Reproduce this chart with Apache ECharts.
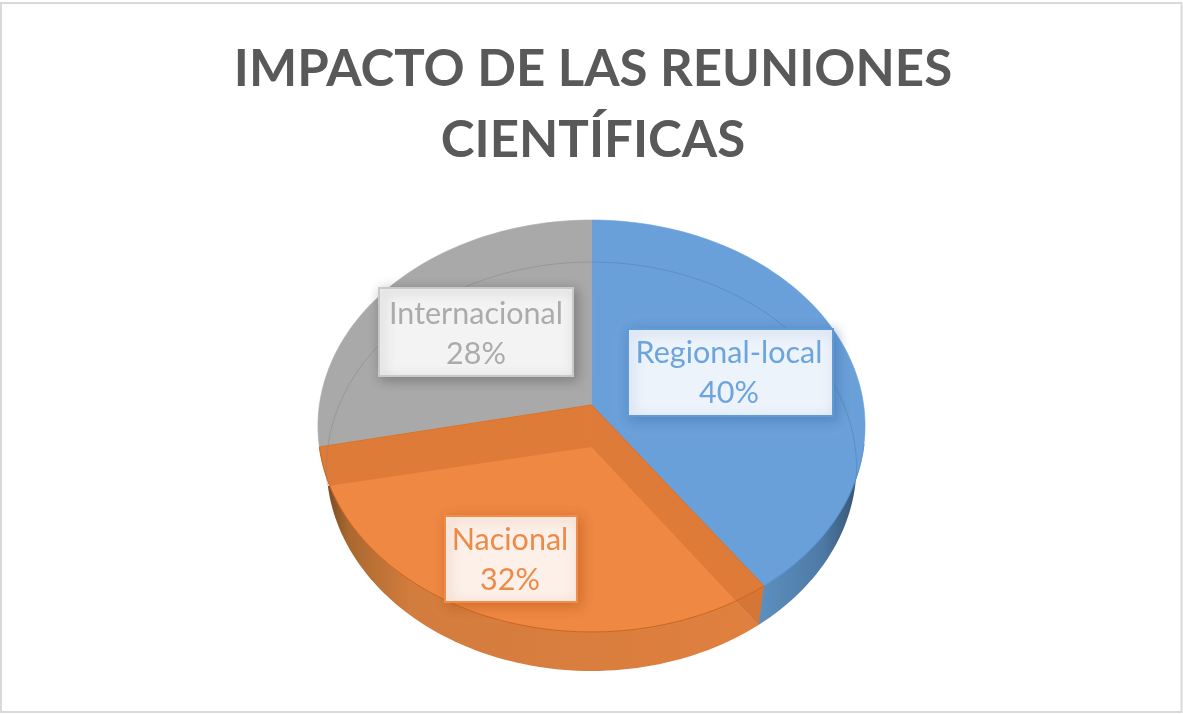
<!DOCTYPE html>
<html><head><meta charset="utf-8">
<style>html,body{margin:0;padding:0;background:#fff}#c{width:1183px;height:714px}</style>
<script src="https://cdn.jsdelivr.net/npm/echarts@6/dist/echarts.min.js"></script>
</head><body><div id="c"></div>
<script>
const titleLines = ['IMPACTO DE LAS REUNIONES', 'CIENTÍFICAS'];
const categories = ['Regional-local', 'Nacional', 'Internacional'];
const percentages = [40, 32, 28];

const FONT = 'Lato, "Open Sans", sans-serif';
// Perspective disc: unit circle -> screen through a projective map
const P = -0.0874, K = 204.4, CX = 591.5;
const TOP = {ay: 408, apexY: 405, r: 272.5};
const BASE = {ay: 447, apexY: 447, r: 264};
const BACK = {ay: 450, apexY: 450, r: 264};
function pt(disc, deg) {
  const a = deg * Math.PI / 180, u = Math.sin(a), v = -Math.cos(a), d = 1 + P * v;
  return [CX + disc.r * u / d, disc.ay + K * v / d];
}
function arc(disc, a0, a1) {
  const out = [], n = Math.max(2, Math.ceil(Math.abs(a1 - a0) / 1.5));
  for (let i = 0; i <= n; i++) out.push(pt(disc, a0 + (a1 - a0) * i / n));
  return out;
}
function apex(disc) { return [CX, disc.apexY]; }
function wedge(disc, a0, a1) { return [apex(disc)].concat(arc(disc, a0, a1)); }
// angle on the top rim nearest to a screen point
function nearestRimAngle(p, from, to) {
  let best = from, bd = Infinity;
  for (let a = from; a >= to; a -= 0.5) {
    const q = pt(TOP, a), d = (q[0] - p[0]) ** 2 + (q[1] - p[1]) ** 2;
    if (d < bd) { bd = d; best = a; }
  }
  return best;
}

const G = (x0, x1, stops) => new echarts.graphic.LinearGradient(x0, 0, x1, 0, stops, true);
const looks = [
  {top: '#6AA0D9', rim: '#5A93CE', text: '#6CA4DE', box: '#EDF3FB', border: '#5F9BD6', shadow: 'rgba(50,100,160,.45)',
   wall: G(760, 862, [{offset: 0, color: '#5C8FBF'}, {offset: .6, color: '#4E7BA6'}, {offset: 1, color: '#35506C'}]),
   rect: {x: 628, y: 329, width: 205, height: 87}, lx: 729, ly: [353, 393]},
  {top: '#EE8843', rim: '#C9661F', text: '#EE8A47', box: '#FCF0E9', border: '#F08C47', shadow: 'rgba(170,80,20,.45)',
   wall: G(322, 760, [{offset: 0, color: '#6E4422'}, {offset: .06, color: '#A9682F'}, {offset: .2, color: '#D27C3D'}, {offset: 1, color: '#E0803F'}]),
   rect: {x: 445, y: 516, width: 132, height: 86}, lx: 510, ly: [540, 580]},
  {top: '#A9A9A9', rim: '#9A9A9A', text: '#ABABAB', box: '#F3F3F3', border: '#C9C9C9', shadow: 'rgba(60,60,60,.4)',
   wall: '#8C8C8C',
   rect: {x: 379, y: 288, width: 194, height: 88}, lx: 476, ly: [314, 354]}
];

const total = percentages.reduce((s, v) => s + v, 0);
const starts = percentages.map((_, i) => percentages.slice(0, i).reduce((s, v) => s + v, 0) * 360 / total);
const BAND = 'rgba(196,100,36,.35)';

function renderSlice(params, api) {
  const i = params.dataIndex, lk = looks[i];
  const a0 = starts[i], a1 = a0 + api.value(1) * 360 / total;
  const kids = [];
  const poly = (points, style, z2) => ({type: 'polygon', shape: {points}, style, z2, silent: true});
  const line = (points, stroke, width, z2) => ({type: 'polyline', shape: {points}, style: {stroke, lineWidth: width, fill: null}, z2, silent: true});

  if (i !== 2) kids.push(poly(wedge(BASE, a0, a1), {fill: lk.wall}, 1));
  kids.push(poly(wedge(TOP, a0, a1), {fill: lk.top, stroke: lk.top, lineWidth: 0.6}, 3));
  if (i === 1) {
    // wall under the front spoke stays orange where it overlaps the blue side
    kids.push(poly([apex(TOP), pt(TOP, a0), pt(BASE, a0), apex(BASE)], {fill: lk.wall}, 2));
    kids.push(poly([apex(TOP), pt(TOP, a0), pt(BASE, a0), apex(BASE)], {fill: BAND}, 4));
    const bp = pt(BASE, a1), end = nearestRimAngle(bp, a1, a1 - 30);
    kids.push(poly([apex(TOP)].concat(arc(TOP, a1, end), [bp, apex(BASE)]), {fill: BAND}, 4));
    kids.push(line(arc(TOP, a0, a1), lk.rim, 1, 6));
    kids.push(line([apex(TOP), pt(TOP, a1)], '#E0701F', 1, 6));
    kids.push(line([apex(TOP), pt(TOP, a0)], '#D9702A', 1, 6));
  }
  if (i === 0) {
    kids.push(line(arc(TOP, 100, a1), lk.rim, 1, 6));
    kids.push(line(arc(BACK, a0, 98), 'rgba(70,120,175,.45)', 1, 5));
  }
  if (i === 2) {
    kids.push(line(arc(BACK, a0 + 1, a1), 'rgba(130,130,130,.45)', 1, 5));
  }
  kids.push({type: 'rect', shape: lk.rect, z2: 7, silent: true,
    style: {fill: lk.box, stroke: lk.border, lineWidth: 2, shadowBlur: 12, shadowColor: lk.shadow, shadowOffsetX: 3, shadowOffsetY: 3}});
  [categories[i], api.value(1) + '%'].forEach((t, k) => {
    kids.push({type: 'text', z2: 8, silent: true,
      style: {text: t, x: lk.lx, y: lk.ly[k], fill: lk.text,
        font: '400 30.5px ' + FONT, align: 'center', verticalAlign: 'middle'}});
  });
  return {type: 'group', children: kids};
}

const chart = echarts.init(document.getElementById('c'), null, {renderer: 'canvas'});
chart.setOption({
  animation: false,
  backgroundColor: '#ffffff',
  title: {
    text: titleLines.join('\n'), left: 588, top: 29, textAlign: 'center',
    textStyle: {fontFamily: FONT, fontWeight: 700, fontSize: 51, lineHeight: 71, color: '#595959'}
  },
  graphic: [{type: 'rect', silent: true, z: -1, shape: {x: 1, y: 3, width: 1180.5, height: 709}, style: {fill: 'transparent', stroke: '#D9D9D9', lineWidth: 2}}],
  series: [{
    type: 'custom', coordinateSystem: 'none', renderItem: renderSlice,
    data: categories.map((c, i) => [i, percentages[i]])
  }]
});
</script></body></html>
